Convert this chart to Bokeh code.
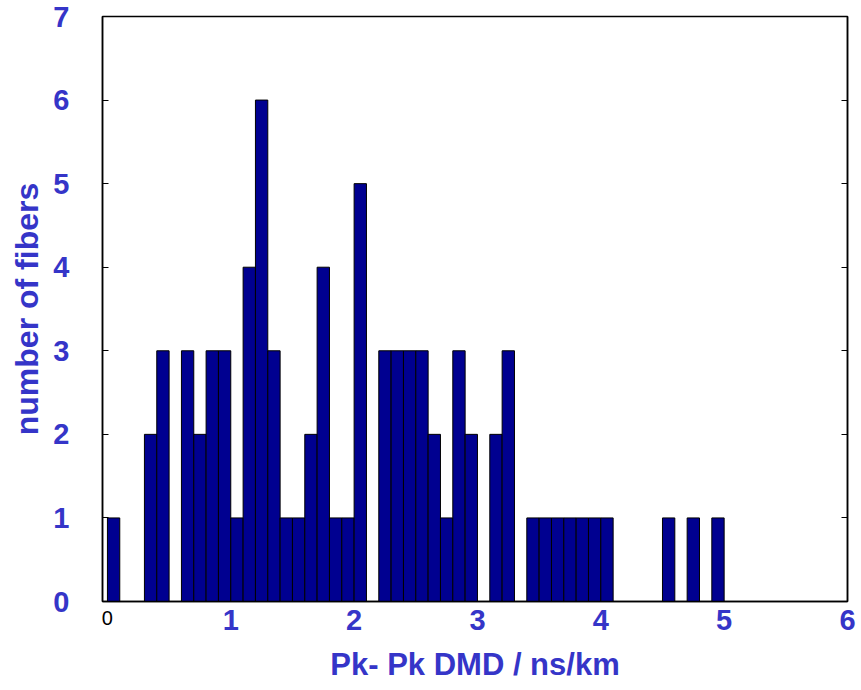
from bokeh.plotting import figure
from bokeh.models import Range1d, FixedTicker, LinearAxis
from bokeh.embed import file_html
from bokeh.resources import INLINE
import numpy as np

# histogram of Pk-Pk DMD, bins of 0.1 ns/km from 0 to 6
bin_width = 0.1
counts = [1, 0, 0, 2, 3, 0, 3, 2, 3, 3,
          1, 4, 6, 3, 1, 1, 2, 4, 1, 1,
          5, 0, 3, 3, 3, 3, 2, 1, 3, 2,
          0, 2, 3, 0, 1, 1, 1, 1, 1, 1,
          1, 0, 0, 0, 0, 1, 0, 1, 0, 1,
          0, 0, 0, 0, 0, 0, 0, 0, 0, 0]
bin_left = np.round(np.arange(len(counts)) * bin_width, 2)
bin_right = np.round(bin_left + bin_width, 2)

x_zero_tick = [0]
x_ticks = [1, 2, 3, 4, 5, 6]
y_ticks = [0, 1, 2, 3, 4, 5, 6, 7]
x_title = "Pk- Pk DMD / ns/km"
y_title = "number of fibers"

BLUE = "#3535C8"
FONT = "Liberation Sans"

p = figure(width=860, height=689, x_range=Range1d(-0.04, 6), y_range=Range1d(0, 7),
           x_axis_location=None,
           output_backend="svg", toolbar_location=None,
           min_border_left=102, min_border_right=13, min_border_top=16, min_border_bottom=88)
p.grid.visible = False
p.outline_line_color = "black"
p.outline_line_width = 1.5

p.quad(left=bin_left, right=bin_right, bottom=0, top=counts,
       fill_color="#000090", line_color="black", line_width=1)

# bottom axis with the small "0"
ax0 = LinearAxis(ticker=FixedTicker(ticks=x_zero_tick),
                 major_tick_in=0, major_tick_out=0, minor_tick_in=0, minor_tick_out=0,
                 axis_line_width=1.5, axis_line_color="black",
                 major_label_standoff=9, major_label_text_font=FONT,
                 major_label_text_font_size="20px", major_label_text_color="black")
p.add_layout(ax0, "below")

# second bottom axis with the bold blue labels and the title
ax1 = LinearAxis(ticker=FixedTicker(ticks=x_ticks),
                 major_tick_in=0, major_tick_out=0, minor_tick_in=0, minor_tick_out=0,
                 axis_line_color=None,
                 major_label_standoff=-18, major_label_text_font=FONT,
                 major_label_text_font_size="29px", major_label_text_font_style="bold",
                 major_label_text_color=BLUE,
                 axis_label=x_title, axis_label_text_font=FONT,
                 axis_label_text_font_size="31px", axis_label_text_font_style="bold",
                 axis_label_text_color=BLUE, axis_label_standoff=14)
p.add_layout(ax1, "below")

ya = p.yaxis[0]
ya.ticker = FixedTicker(ticks=y_ticks)
ya.major_tick_in = 6
ya.major_tick_out = 0
ya.minor_tick_in = 0
ya.minor_tick_out = 0
ya.axis_line_width = 1.5
ya.major_label_standoff = 33
ya.major_label_text_font = FONT
ya.major_label_text_font_size = "29px"
ya.major_label_text_font_style = "bold"
ya.major_label_text_color = BLUE
ya.axis_label = y_title
ya.axis_label_text_font = FONT
ya.axis_label_text_font_size = "32px"
ya.axis_label_text_font_style = "bold"
ya.axis_label_text_color = BLUE
ya.axis_label_standoff = 5

ra = LinearAxis(ticker=FixedTicker(ticks=y_ticks),
                major_label_overrides={t: "" for t in y_ticks},
                major_tick_in=6, major_tick_out=0, minor_tick_in=0, minor_tick_out=0,
                major_label_standoff=0, axis_line_width=1.5)
p.add_layout(ra, "right")

open("out.html", "w").write(file_html(p, INLINE))
